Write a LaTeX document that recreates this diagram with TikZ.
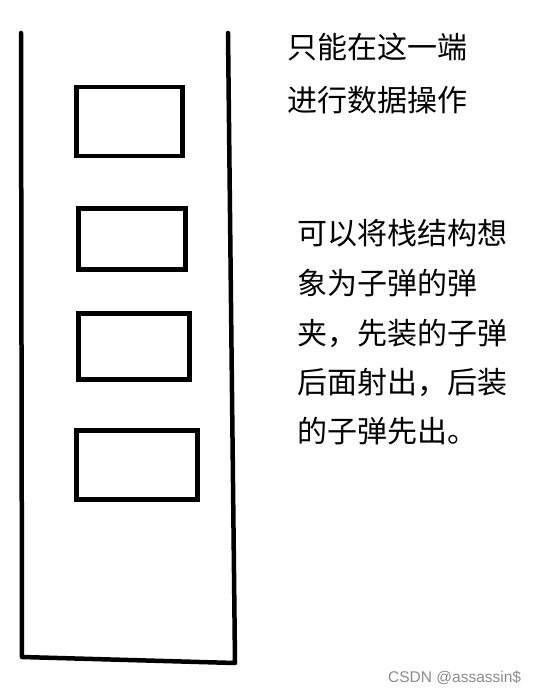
\documentclass[tikz,border=0pt]{standalone}
\usepackage{fontspec}
\newfontfamily\cjk{Noto Sans CJK SC}
\newfontfamily\wm{Liberation Sans}
\tikzset{
  stroke/.style={line width=4.5pt, line cap=round, line join=round},
  slot/.style={draw, line width=4.5pt, inner sep=0pt, anchor=north west},
  cjktext/.style={anchor=west, inner sep=0pt, font=\cjk\fontsize{30}{30}\selectfont}
}
\begin{document}
\begin{tikzpicture}[x=1pt,y=-1pt]
\useasboundingbox (0,0) rectangle (538,695);
\fill[white] (0,0) rectangle (538,695);
% frame
\coordinate (tl) at (21,33);
\coordinate (bl) at (22,657);
\coordinate (br) at (235,663);
\coordinate (tr) at (228,33);
\draw[stroke] (tl) -- (bl) -- (br) -- (tr);
% slots
\node[slot, minimum width=106pt, minimum height=69pt] (b1) at (74,85) {};
\node[slot, minimum width=107pt, minimum height=61pt] (b2) at (76,206) {};
\node[slot, minimum width=111pt, minimum height=66pt] (b3) at (76,311) {};
\node[slot, minimum width=121pt, minimum height=69pt] (b4) at (74,428) {};
% texts
\node[cjktext] (t1) at (287,47) {只能在这一端};
\node[cjktext] (t2) at (287,100) {进行数据操作};
\node[cjktext] (p1) at (297,233) {可以将栈结构想};
\node[cjktext] (p2) at (297,283) {象为子弹的弹};
\node[cjktext] (p3) at (297,333) {夹，先装的子弹};
\node[cjktext] (p4) at (297,382) {后面射出，后装};
\node[cjktext] (p5) at (297,431) {的子弹先出。};
\node[anchor=west, inner sep=0pt, text=black!45, font=\wm\fontsize{15.5}{15.5}\selectfont] (w) at (388,678) {CSDN @assassin\$};
\end{tikzpicture}
\end{document}
